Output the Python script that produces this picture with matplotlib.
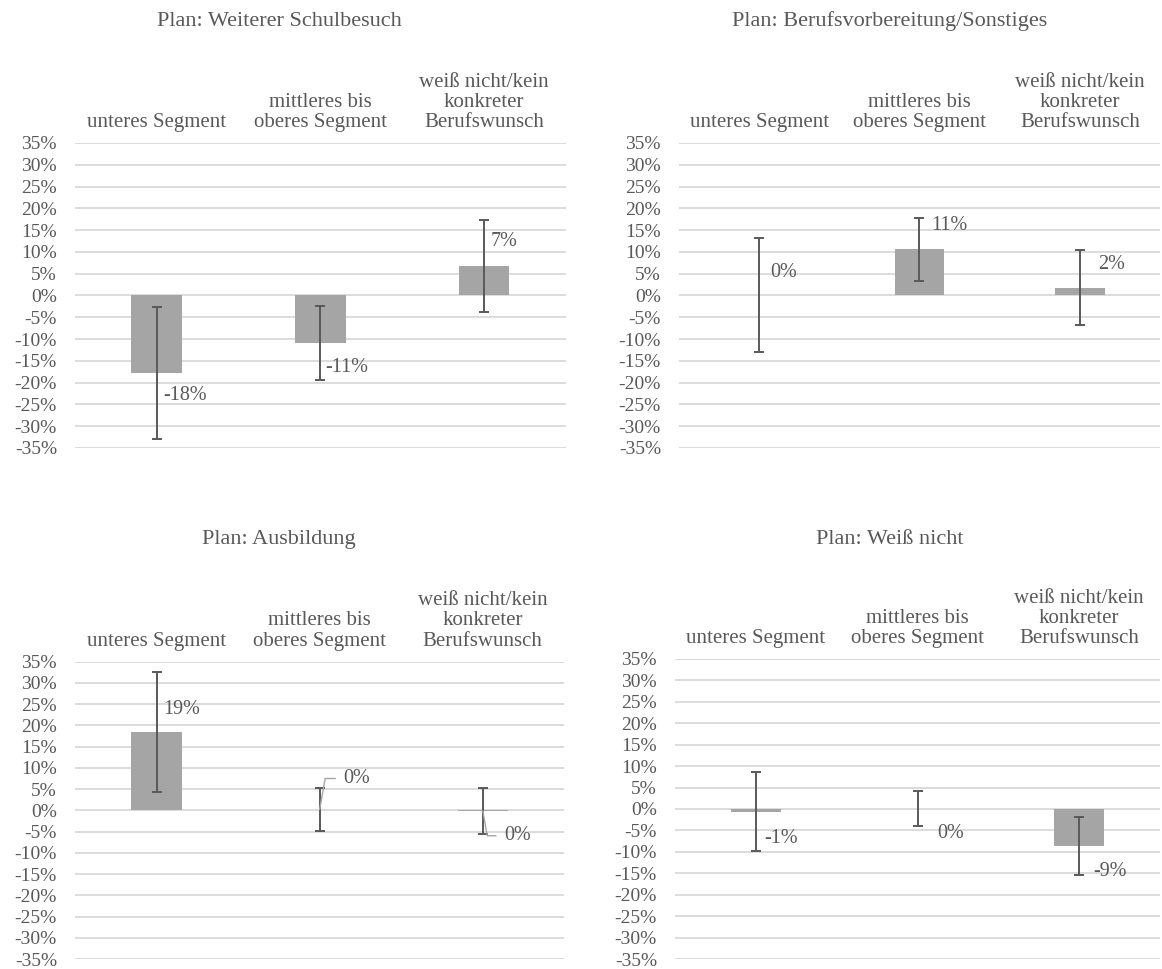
import matplotlib
matplotlib.use('Agg')
from matplotlib import pyplot as plt

plt.rcParams['font.family'] = ['Liberation Serif', 'DejaVu Serif']

GREY_TEXT = '#595959'
BAR_COLOR = '#a5a5a5'
GRID_COLOR = '#d9d9d9'

categories = ['unteres Segment', 'mittleres bis\noberes Segment',
              'weiß nicht/kein\nkonkreter\nBerufswunsch']
titles = ['Plan: Weiterer Schulbesuch', 'Plan: Berufsvorbereitung/Sonstiges',
          'Plan: Ausbildung', 'Plan: Weiß nicht']

# effects in percent, half width of the error bars, printed labels
schule = [-17.8, -10.9, 6.8]
schule_err = [15.2, 8.4, 10.6]
schule_lab = ['-18%', '-11%', '7%']

berufsvorb = [0.1, 10.6, 1.8]
berufsvorb_err = [13.0, 7.2, 8.6]
berufsvorb_lab = ['0%', '11%', '2%']

ausbildung = [18.5, 0.2, -0.1]
ausbildung_err = [14.1, 5.1, 5.45]
ausbildung_lab = ['19%', '0%', '0%']

weiss_nicht = [-0.6, 0.1, -8.6]
weiss_nicht_err = [9.3, 4.0, 6.8]
weiss_nicht_lab = ['-1%', '0%', '-9%']

yticks = list(range(-35, 40, 5))

# layout (figure fractions) and label offsets in pixels
axes_pos = [[0.0645, 0.5377, 0.4225, 0.3148],
            [0.5843, 0.5377, 0.4140, 0.3148],
            [0.0645, 0.0103, 0.4212, 0.3068],
            [0.5809, 0.0103, 0.4174, 0.3097]]
title_pos = [(0.240, 0.978), (0.766, 0.978), (0.240, 0.4437), (0.766, 0.4437)]
label_off = [[(6.5, -22), (5, -25), (6.5, 24)],
             [(11.6, 23), (12, 23.6), (18, 23)],
             [(6.4, 22), (24, 31), (21.5, -25)],
             [(8.4, -27), (19.8, -25), (14, -26)]]
# leader lines (angle of the line at the data point), None = no leader
leaders = [[None, None, None],
           [None, None, None],
           [None, 80, 100],
           [None, None, None]]

panels = [(schule, schule_err, schule_lab),
          (berufsvorb, berufsvorb_err, berufsvorb_lab),
          (ausbildung, ausbildung_err, ausbildung_lab),
          (weiss_nicht, weiss_nicht_err, weiss_nicht_lab)]

fig = plt.figure(figsize=(11.62, 9.69), dpi=100)
px = 0.72  # pixel -> points at 100 dpi

for k, (vals, errs, labs) in enumerate(panels):
    ax = fig.add_axes(axes_pos[k])
    x = list(range(len(categories)))
    ax.bar(x, vals, width=0.31, color=BAR_COLOR, zorder=2)
    ax.errorbar(x, vals, yerr=errs, fmt='none', ecolor=GREY_TEXT,
                elinewidth=1.4, capsize=3.8, capthick=1.4, zorder=3)

    for i, (v, lab) in enumerate(zip(vals, labs)):
        dx, dy = label_off[k][i]
        arrow = None
        if leaders[k][i] is not None:
            arrow = dict(arrowstyle='-', color='#a6a6a6', lw=1.0, shrinkA=4, shrinkB=0,
                         connectionstyle='angle,angleA=0,angleB=%d,rad=0' % leaders[k][i])
        ax.annotate(lab, xy=(i, v), xytext=(dx * px, dy * px), textcoords='offset points',
                    ha='left', va='center', fontsize=14.5, color=GREY_TEXT,
                    arrowprops=arrow, zorder=4)

    ax.set_xlim(-0.5, 2.5)
    ax.set_ylim(-35, 35)
    ax.set_yticks(yticks)
    ax.set_yticklabels(['%d%%' % t for t in yticks])
    ax.xaxis.tick_top()
    ax.set_xticks(x)
    ax.set_xticklabels(categories, linespacing=1.08)
    ax.tick_params(axis='x', length=0, pad=8, labelsize=15, labelcolor=GREY_TEXT)
    ax.tick_params(axis='y', length=0, pad=13, labelsize=14, labelcolor=GREY_TEXT)
    ax.yaxis.grid(True, color=GRID_COLOR, lw=1.3)
    ax.set_axisbelow(True)
    for s in ax.spines.values():
        s.set_visible(False)

    fig.text(title_pos[k][0], title_pos[k][1], titles[k], ha='center', va='center',
             fontsize=16, color=GREY_TEXT)

fig.savefig('out.png', dpi=100)
